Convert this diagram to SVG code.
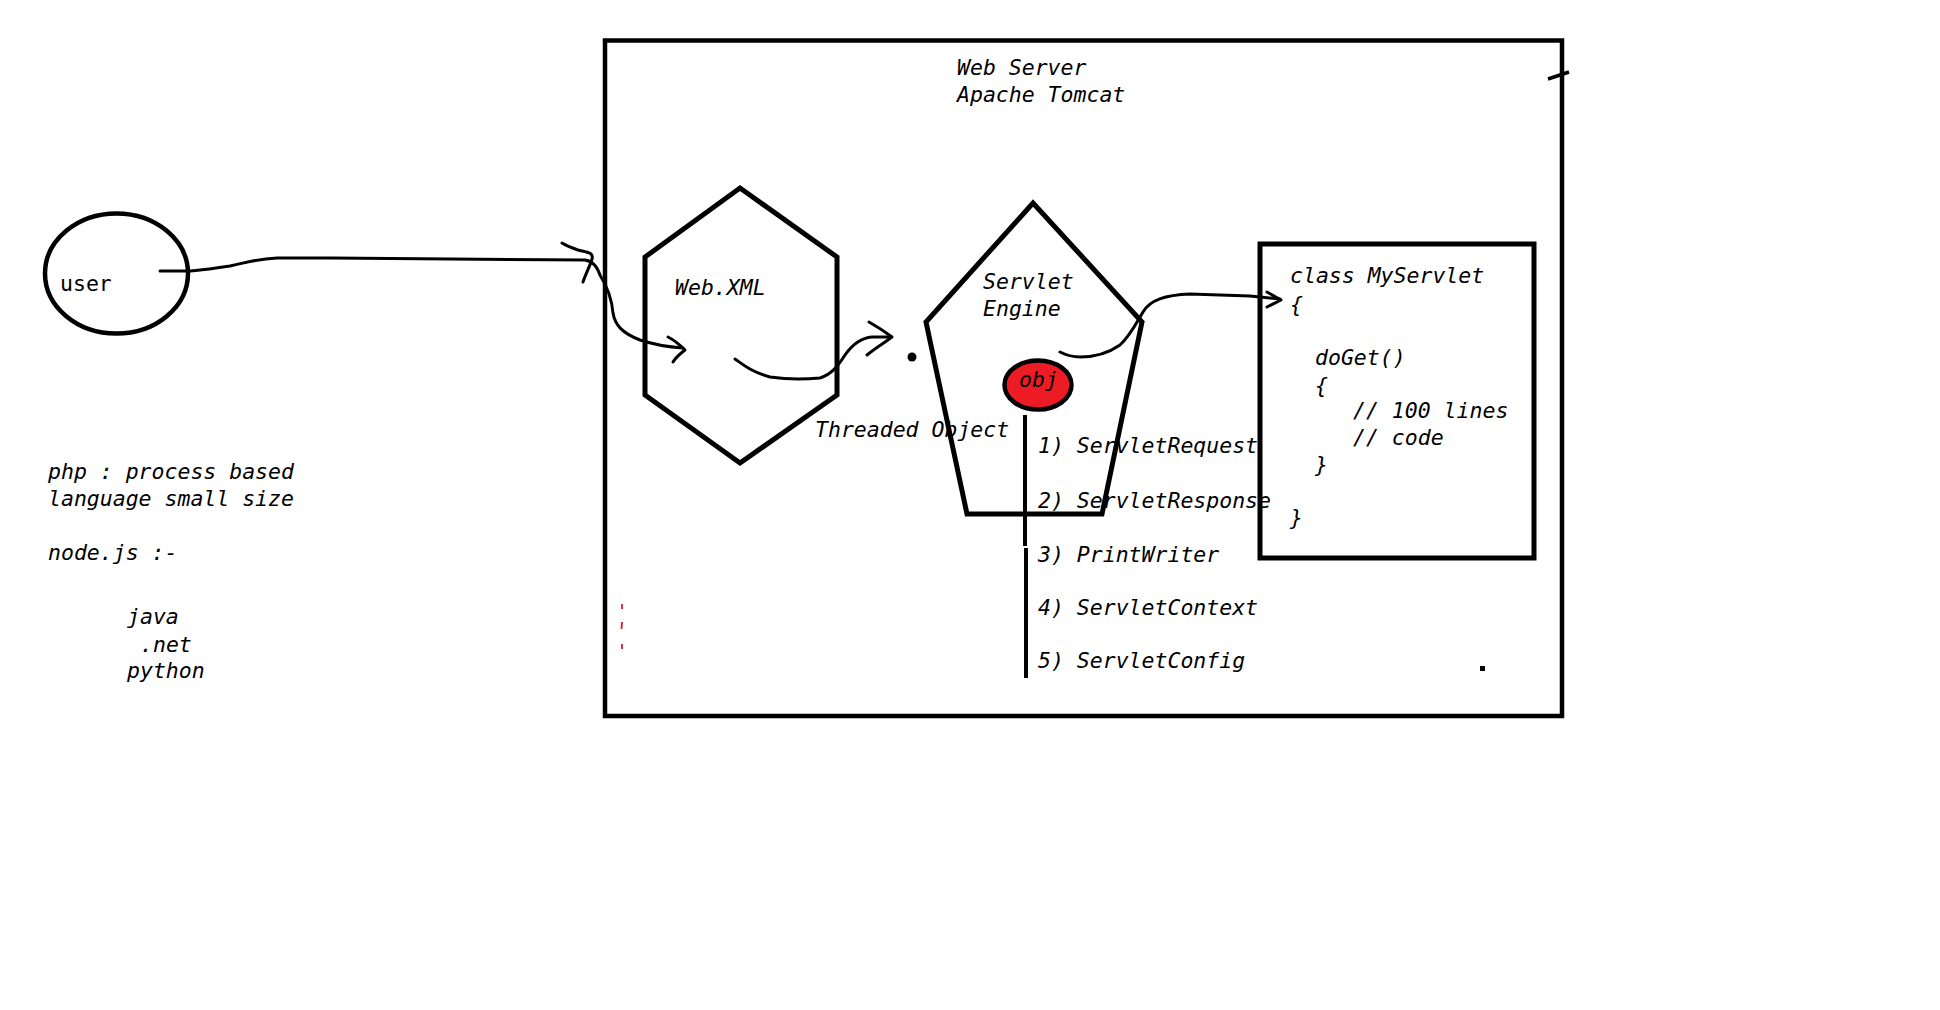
<svg xmlns="http://www.w3.org/2000/svg" width="1940" height="1010" viewBox="0 0 1940 1010">
<defs>
<style>
.t{font-family:"DejaVu Sans Mono","Liberation Mono",monospace;font-size:21.5px;fill:#000}
.i{font-style:italic}
.s{fill:none;stroke:#000;stroke-linejoin:miter}
.c{fill:none;stroke:#000;stroke-width:3;stroke-linecap:round;stroke-linejoin:round}
</style>
</defs>
<rect width="1940" height="1010" fill="#fff"/>

<g id="web-server">
<rect class="s" x="605" y="40.5" width="957" height="675.5" stroke-width="4.5"/>
<line x1="1548" y1="79" x2="1569" y2="72" stroke="#000" stroke-width="3.5"/>
<text class="t i" x="957" y="75">Web Server</text>
<text class="t i" x="957" y="102">Apache Tomcat</text>
<g stroke="#d21c24" stroke-width="1.8">
<line x1="622" y1="604" x2="622" y2="609"/>
<line x1="622" y1="622" x2="621.5" y2="629"/>
<line x1="622" y1="644" x2="622" y2="649"/>
</g>
<rect x="1480" y="666" width="5" height="5" fill="#000"/>
</g>

<g id="user">
<ellipse class="s" cx="116.5" cy="273.5" rx="71.5" ry="60" stroke-width="4.5"/>
<text class="t" x="60" y="291">user</text>
</g>

<g id="web-xml">
<polygon class="s" points="740,188 837,257 837,395 740,463 645,395 645,257" stroke-width="5"/>
<text class="t i" x="675" y="295">Web.XML</text>
</g>

<g id="servlet-engine">
<polygon class="s" points="1033,203 1142,322 1102,514 967,514 926,322" stroke-width="5"/>
<text class="t i" x="983" y="289">Servlet</text>
<text class="t i" x="983" y="316">Engine</text>
</g>

<g id="obj">
<ellipse cx="1038" cy="385" rx="33.5" ry="24.5" fill="#ed1c24" stroke="#000" stroke-width="4.5"/>
<text class="t i" x="1019" y="387">obj</text>
</g>

<g id="threaded-object">
<text class="t i" x="815" y="437">Threaded Object</text>
</g>

<g id="objects-list">
<text class="t i" x="1038" y="453">1) ServletRequest</text>
<text class="t i" x="1038" y="508">2) ServletResponse</text>
<text class="t i" x="1038" y="562">3) PrintWriter</text>
<text class="t i" x="1038" y="615">4) ServletContext</text>
<text class="t i" x="1038" y="668">5) ServletConfig</text>
</g>

<g id="my-servlet">
<rect class="s" x="1260" y="244" width="274" height="314" stroke-width="5"/>
<text class="t i" x="1290" y="283">class MyServlet</text>
<text class="t i" x="1290" y="312">{</text>
<text class="t i" x="1315" y="365">doGet()</text>
<text class="t i" x="1315" y="393">{</text>
<text class="t i" x="1353" y="418">// 100 lines</text>
<text class="t i" x="1353" y="445">// code</text>
<text class="t i" x="1315" y="472">}</text>
<text class="t i" x="1290" y="525">}</text>
</g>

<g id="notes">
<text class="t i" x="48" y="479">php : process based</text>
<text class="t i" x="48" y="506">language small size</text>
<text class="t i" x="48" y="560">node.js :-</text>
<text class="t i" x="127" y="624">java</text>
<text class="t i" x="140" y="652">.net</text>
<text class="t i" x="127" y="678">python</text>
</g>

<g id="connectors">
<path class="c" d="M160,271 L190,271 C205,270 215,268 230,266 C245,263 255,259 277,258 L330,258 L585,260 C592,261 597,266 600,275 C608,288 612,300 613,313 C615,325 622,333 640,340 C655,345 668,347 683,348"/>
<path class="c" d="M562,243 C567,246 572,248 578,250 C586,252 594,252 592,259 C590,266 586,273 583,282"/>
<path class="c" d="M668,337 C674,340 680,345 685,350 C681,353 676,357 673,362"/>
<path class="c" d="M735,359 C745,366 752,372 770,377 C790,380 810,379 820,378 C832,374 838,366 845,355 C852,345 860,338 872,337 L890,337"/>
<path class="c" d="M869,322 C876,326 884,331 892,337 C884,343 874,349 867,355"/>
<circle cx="912" cy="357" r="4.5" fill="#000"/>
<path class="c" d="M1060,352 C1066,355 1072,357 1080,357 C1095,357 1110,352 1120,345 C1130,336 1137,322 1143,312 C1150,300 1165,295 1190,294 L1250,296 L1280,299"/>
<path class="c" d="M1267,292 L1281,300 L1267,307"/>
<line x1="1025" y1="415" x2="1025" y2="546" stroke="#000" stroke-width="4"/>
<line x1="1026" y1="548" x2="1026" y2="678" stroke="#000" stroke-width="4"/>
</g>
</svg>
